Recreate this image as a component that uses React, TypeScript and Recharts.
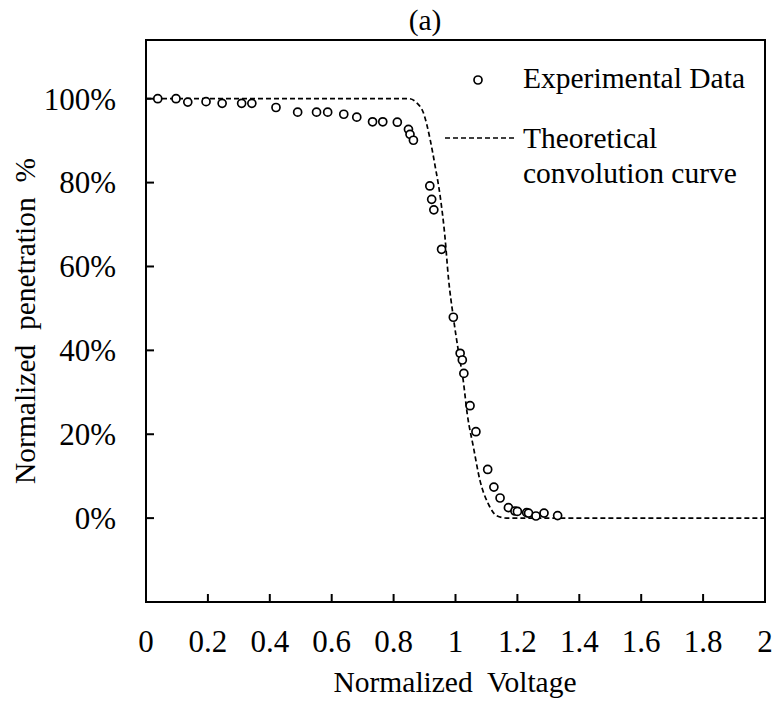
import React from 'react';
import { ComposedChart, Line, Scatter, XAxis, YAxis, ReferenceArea, Legend } from 'recharts';

// measured data (normalized voltage vs normalized penetration)
const expVoltage = [
  0.038, 0.097, 0.135, 0.194, 0.246, 0.309, 0.342, 0.42, 0.49, 0.551, 0.587, 0.639, 0.681, 0.732, 0.765,
  0.812, 0.848, 0.853, 0.864, 0.917, 0.923, 0.93, 0.955, 0.993, 1.015, 1.022, 1.027, 1.047, 1.066, 1.104,
  1.124, 1.144, 1.171, 1.192, 1.2, 1.23, 1.236, 1.26, 1.286, 1.33,
];
const expPenetration = [
  1.0, 1.0, 0.992, 0.993, 0.989, 0.989, 0.989, 0.979, 0.968, 0.968, 0.968, 0.963, 0.956, 0.945, 0.945,
  0.944, 0.927, 0.915, 0.901, 0.792, 0.76, 0.735, 0.641, 0.479, 0.393, 0.377, 0.345, 0.268, 0.206, 0.116,
  0.074, 0.048, 0.025, 0.017, 0.016, 0.013, 0.012, 0.005, 0.012, 0.006,
];

// theoretical convolution curve
const curveVoltage = [
  0, 0.85, 0.875, 0.896, 0.918, 0.934, 0.95, 0.966, 0.977, 0.993, 1.009, 1.025, 1.038, 1.058, 1.079, 1.106,
  1.133, 1.165, 2.0,
];
const curvePenetration = [
  1.0, 1.0, 0.99, 0.967, 0.903, 0.84, 0.77, 0.67, 0.574, 0.479, 0.4, 0.328, 0.248, 0.169, 0.09, 0.034,
  0.006, 0, 0,
];

const xTicks = [0, 0.2, 0.4, 0.6, 0.8, 1, 1.2, 1.4, 1.6, 1.8, 2];
const yTicks = [0, 0.2, 0.4, 0.6, 0.8, 1];

const experimental = expVoltage.map((x, i) => ({ x, y: expPenetration[i] }));
const curve = curveVoltage.map((x, i) => ({ x, y: curvePenetration[i] }));

const FONT = "'Liberation Serif', 'Times New Roman', Times, serif";
const W = 777;
const H = 704;
const PLOT_LEFT = 146;
const PLOT_BOTTOM = 602;

const YTick = (props: any) => {
  const { y, payload } = props;
  return (
    <g>
      <line x1={PLOT_LEFT} x2={PLOT_LEFT + 8} y1={y} y2={y} stroke="#000" strokeWidth={2} />
      <text x={116} y={y} dy="0.35em" textAnchor="end" style={{ fontFamily: FONT, fontSize: 31 }} fill="#000">
        {`${Math.round(payload.value * 100)}%`}
      </text>
    </g>
  );
};

const XTick = (props: any) => {
  const { x, payload } = props;
  return (
    <g>
      <line x1={x} x2={x} y1={PLOT_BOTTOM} y2={PLOT_BOTTOM - 8} stroke="#000" strokeWidth={2} />
      <text x={x} y={652} textAnchor="middle" style={{ fontFamily: FONT, fontSize: 31 }} fill="#000">
        {String(Number(payload.value.toFixed(1)))}
      </text>
    </g>
  );
};

const OpenCircle = (props: any) => {
  const { cx, cy } = props;
  return <circle cx={cx} cy={cy} r={4} fill="#fff" stroke="#000" strokeWidth={1.7} />;
};

const Overlay = () => (
  <svg width={W} height={H} style={{ position: 'absolute', left: 0, top: 0, pointerEvents: 'none' }}>
    <g style={{ fontFamily: FONT, fontSize: 29.5 }} fill="#000">
      <text x={425} y={30} textAnchor="middle">(a)</text>
      <circle cx={478} cy={80} r={4} fill="#fff" stroke="#000" strokeWidth={1.7} />
      <text x={523} y={88}>Experimental Data</text>
      <line x1={445} x2={515} y1={138} y2={138} stroke="#000" strokeWidth={1.7} strokeDasharray="5 3" />
      <text x={523} y={148}>Theoretical</text>
      <text x={523} y={183}>convolution curve</text>
      <text x={455} y={692} textAnchor="middle" style={{ whiteSpace: 'pre' }}>
        Normalized  Voltage
      </text>
      <text
        x={35}
        y={321}
        textAnchor="middle"
        transform="rotate(-90 35 321)"
        style={{ whiteSpace: 'pre' }}
      >
        Normalized  penetration  %
      </text>
    </g>
  </svg>
);

export default function App() {
  return (
    <div style={{ position: 'absolute', left: 0, top: 0, width: W, height: H, background: '#fff' }}>
      <ComposedChart width={W} height={H} margin={{ top: 40, right: 12, bottom: 0, left: 0 }}>
        <XAxis
          type="number"
          dataKey="x"
          domain={[0, 2]}
          ticks={xTicks}
          height={102}
          tick={<XTick />}
          tickLine={false}
          axisLine={{ stroke: '#000', strokeWidth: 2 }}
          allowDataOverflow
        />
        <YAxis
          type="number"
          dataKey="y"
          domain={[-0.2, 1.14]}
          ticks={yTicks}
          width={PLOT_LEFT}
          tick={<YTick />}
          tickLine={false}
          axisLine={{ stroke: '#000', strokeWidth: 2 }}
          allowDataOverflow
        />
        <ReferenceArea x1={0} x2={2} y1={-0.2} y2={1.14} fill="none" stroke="#000" strokeWidth={2} ifOverflow="visible" />
        <Line
          data={curve}
          dataKey="y"
          type="monotone"
          stroke="#000"
          strokeWidth={1.7}
          strokeDasharray="5 3"
          dot={false}
          activeDot={false}
          isAnimationActive={false}
        />
        <Scatter data={experimental} dataKey="y" shape={<OpenCircle />} isAnimationActive={false} />
        <Legend content={() => null} />
      </ComposedChart>
      <Overlay />
    </div>
  );
}
